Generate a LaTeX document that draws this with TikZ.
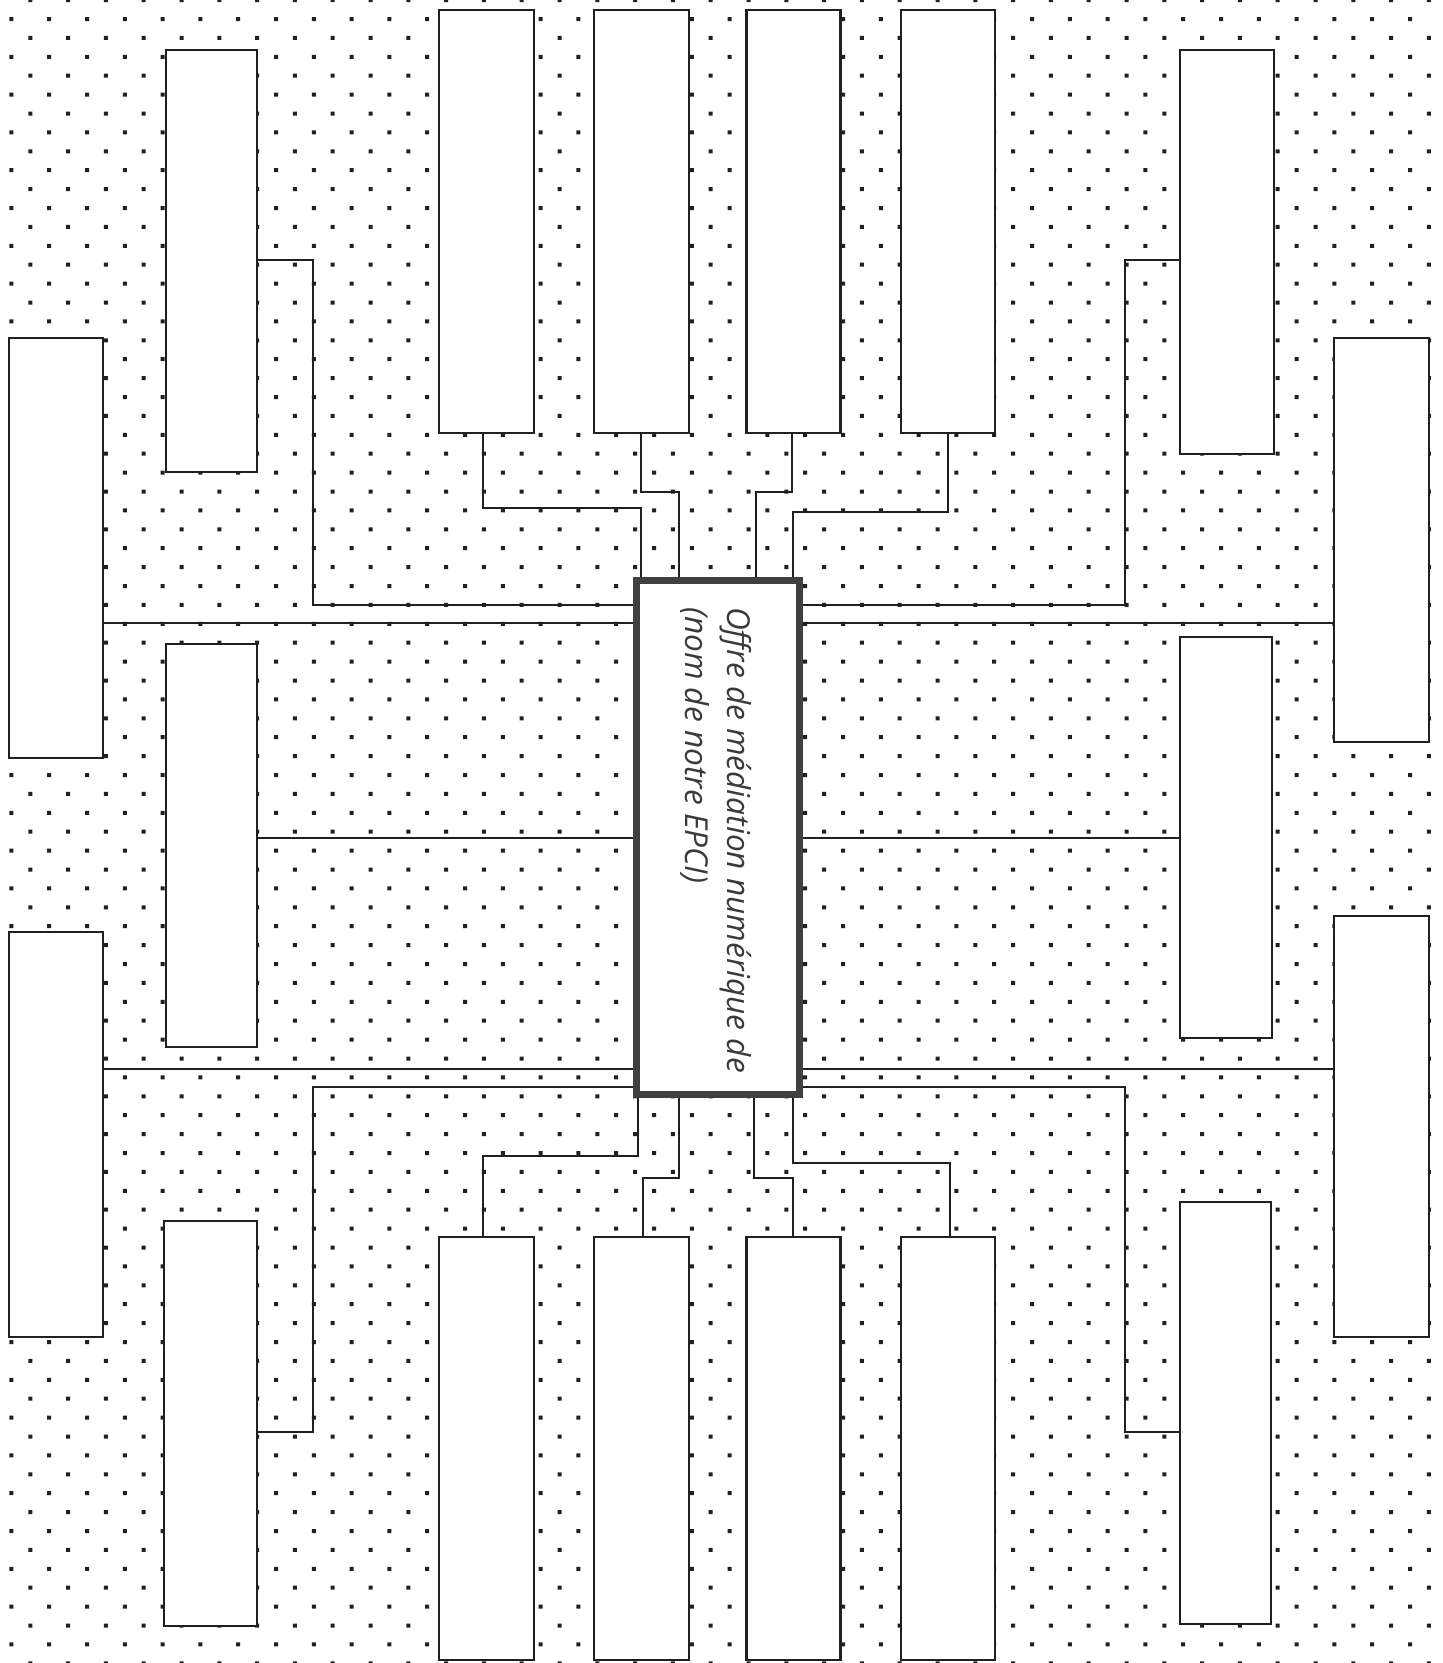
\documentclass[tikz,border=0pt]{standalone}
\usepackage{fontspec}
\newfontfamily\lblfont{Open Sans}
\definecolor{ink}{HTML}{231F20}
\definecolor{hub}{HTML}{404040}
\definecolor{lbl}{HTML}{3A3A3A}
\newcommand\bx[5]{\node[box, minimum width={#4-#2}, minimum height={#5-#3}] (#1) at ({(#2+#4)/2},{(#3+#5)/2}) {};}
\begin{document}
\begin{tikzpicture}[x=1pt,y=-1pt,
  box/.style={draw=ink, fill=white, line width=2.2pt, inner sep=0pt},
  hubbox/.style={draw=hub, fill=white, line width=7pt, inner sep=0pt},
  wire/.style={draw=ink, line width=2pt}]
\fill[white] (0,0) rectangle (1443,1663);
\useasboundingbox (0,0) rectangle (1443,1663);
% dotted background
\fill[ink] \foreach \j in {0,...,43} { \foreach \i in {0,...,37} {
  ({11.4+37.8*\i-2},{19+37.8*\j-2}) rectangle ({11.4+37.8*\i+2},{19+37.8*\j+2}) } };
\fill[ink] \foreach \j in {0,...,44} { \foreach \i in {0,...,37} {
  ({30.3+37.8*\i-2},{0.1+37.8*\j-2}) rectangle ({30.3+37.8*\i+2},{0.1+37.8*\j+2}) } };
% boxes
\bx{T1}{439.3}{10}{534}{433.3}
\bx{T2}{594.3}{10}{688.7}{433.3}
\bx{T3}{746.5}{10}{840.5}{433.3}
\bx{T4}{901.3}{10}{994.6}{433.3}
\bx{B1}{439.3}{1237}{534}{1660}
\bx{B2}{594.3}{1237}{688.7}{1660}
\bx{B3}{746.5}{1237}{840.5}{1660}
\bx{B4}{901.3}{1237}{994.6}{1660}
\bx{L1}{166}{49.7}{257}{472.3}
\bx{LM}{166}{644.3}{257}{1047.3}
\bx{LL}{163.6}{1220.7}{257}{1626}
\bx{FL1}{9}{337.7}{103}{758}
\bx{FL2}{9}{932}{103}{1337}
\bx{R1}{1180}{49.7}{1274}{453.8}
\bx{RM}{1180}{636.7}{1272}{1038}
\bx{RL}{1180}{1202}{1271}{1624}
\bx{FR1}{1334}{337.7}{1429}{742}
\bx{FR2}{1334}{916}{1429}{1337}
\node[hubbox, minimum width=162.7, minimum height=514.5] (C) at (717.65,837.25) {};
\node[rotate=-90, anchor=north west, inner sep=0pt, align=left, text=lbl,
  font=\lblfont\itshape\fontsize{31.6}{42}\selectfont] (Ct) at (752,607)
  {Offre de médiation numérique de\\(nom de notre EPCI)};
% left connectors
\draw[wire] (L1.east |- 0,260) -- (313,260) |- (C.west |- 0,605);
\draw[wire] (FL1.east |- 0,623.3) -- (C.west |- 0,623.3);
\draw[wire] (LM.east |- 0,837.6) -- (C.west |- 0,837.6);
\draw[wire] (FL2.east |- 0,1069) -- (C.west |- 0,1069);
\draw[wire] (LL.east |- 0,1432) -- (313,1432) |- (C.west |- 0,1087.3);
% right connectors
\draw[wire] (R1.west |- 0,260) -- (1125,260) |- (C.east |- 0,605);
\draw[wire] (FR1.west |- 0,623.3) -- (C.east |- 0,623.3);
\draw[wire] (RM.west |- 0,837.6) -- (C.east |- 0,837.6);
\draw[wire] (FR2.west |- 0,1069) -- (C.east |- 0,1069);
\draw[wire] (RL.west |- 0,1432) -- (1125,1432) |- (C.east |- 0,1087.3);
% top connectors
\draw[wire] (T1.south -| 482.7,0) |- (641.3,507.7) -- (C.north -| 641.3,0);
\draw[wire] (T2.south -| 641.3,0) |- (679.3,492.3) -- (C.north -| 679.3,0);
\draw[wire] (T3.south -| 792.3,0) |- (756,492.3) -- (C.north -| 756,0);
\draw[wire] (T4.south -| 948,0) |- (793.3,512) -- (C.north -| 793.3,0);
% bottom connectors
\draw[wire] (B1.north -| 482.7,0) |- (638.3,1156) -- (C.south -| 638.3,0);
\draw[wire] (B2.north -| 643.3,0) |- (679.3,1177.7) -- (C.south -| 679.3,0);
\draw[wire] (B3.north -| 792.7,0) |- (754,1177.7) -- (C.south -| 754,0);
\draw[wire] (B4.north -| 950,0) |- (792.7,1162.7) -- (C.south -| 792.7,0);
\end{tikzpicture}
\end{document}
